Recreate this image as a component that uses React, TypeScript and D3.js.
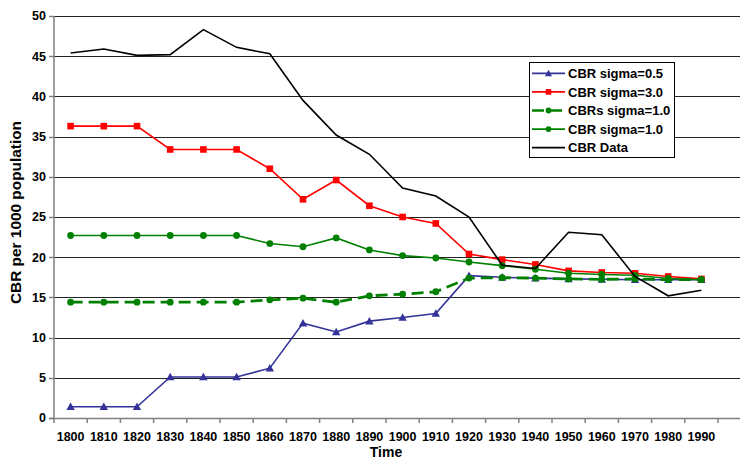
import React from "react";
import * as d3 from "d3";

const years = ["1800","1810","1820","1830","1840","1850","1860","1870","1880","1890","1900","1910","1920","1930","1940","1950","1960","1970","1980","1990"];
const yTicks = [0,5,10,15,20,25,30,35,40,45,50];

const sigma05 = [1.4,1.4,1.4,5.1,5.1,5.1,6.2,11.8,10.7,12.05,12.5,13.0,17.7,17.5,17.4,17.3,17.25,17.2,17.2,17.2];
const sigma30 = [36.3,36.3,36.3,33.4,33.4,33.4,31.0,27.2,29.6,26.4,25.0,24.2,20.4,19.7,19.1,18.3,18.1,18.0,17.6,17.3];
const cbrsSigma10 = [14.4,14.4,14.4,14.4,14.4,14.4,14.7,14.9,14.4,15.2,15.4,15.7,17.4,17.45,17.4,17.3,17.25,17.3,17.2,17.2];
const sigma10 = [22.7,22.7,22.7,22.7,22.7,22.7,21.7,21.3,22.4,20.9,20.2,19.9,19.4,18.95,18.5,18.0,17.85,17.75,17.35,17.2];
const cbrData = [45.4,45.9,45.1,45.2,48.3,46.1,45.3,39.5,35.2,32.8,28.6,27.6,25.0,19.0,18.6,23.1,22.8,17.6,15.2,15.9];

const series = [
  { name: "CBR sigma=0.5", values: sigma05, color: "#333399", marker: "triangle", dash: null, width: 1.6 },
  { name: "CBR sigma=3.0", values: sigma30, color: "#FF0000", marker: "square", dash: null, width: 1.6 },
  { name: "CBRs sigma=1.0", values: cbrsSigma10, color: "#008000", marker: "circle", dash: "12,6", width: 2.8 },
  { name: "CBR sigma=1.0", values: sigma10, color: "#008000", marker: "circle", dash: null, width: 1.6 },
  { name: "CBR Data", values: cbrData, color: "#000000", marker: null, dash: null, width: 1.6 },
];

const left = 54, right = 718, top = 16, bottom = 418, gridRight = 740;
const font = "'Liberation Sans', Arial, sans-serif";

function Marker({ type, x, y, color, scale = 1 }: { type: string | null; x: number; y: number; color: string; scale?: number }) {
  if (type === "triangle") {
    const s = 4.2 * scale;
    return <path d={`M${x},${y - s}L${x + s},${y + s * 0.8}L${x - s},${y + s * 0.8}Z`} fill={color} />;
  }
  if (type === "square") {
    const h = 3.3 * scale;
    return <rect x={x - h} y={y - h} width={2 * h} height={2 * h} fill={color} />;
  }
  if (type === "circle") {
    return <circle cx={x} cy={y} r={3.4 * scale} fill={color} />;
  }
  return null;
}

export default function App() {
  const x = d3.scaleBand<string>().domain(years).range([left, right]).padding(0);
  const y = d3.scaleLinear().domain([0, 50]).range([bottom, top]);
  const cx = (yr: string) => (x(yr) as number) + x.bandwidth() / 2;
  const line = d3.line<number>().x((_, i) => cx(years[i])).y((d) => y(d));

  const legendX = 529, legendY = 62, legendW = 145, legendH = 95;
  const rowYs = [73.3, 91.9, 110.5, 129.1, 147.7];

  return (
    <svg width={740} height={459} style={{ position: "absolute", left: 0, top: 0, background: "#fff" }} fontFamily={font} fontWeight="bold">
      <rect width={740} height={459} fill="#fff" />
      {yTicks.filter((t) => t > 0).map((t) => (
        <line key={t} x1={left} x2={gridRight} y1={Math.round(y(t)) + 0.5} y2={Math.round(y(t)) + 0.5} stroke="#222" strokeWidth={1} />
      ))}
      <line x1={left} x2={left} y1={top} y2={bottom} stroke="#808080" strokeWidth={1.5} />
      <line x1={left - 5} x2={gridRight} y1={bottom + 0.5} y2={bottom + 0.5} stroke="#808080" strokeWidth={1.5} />
      {yTicks.map((t) => (
        <g key={t}>
          <line x1={left - 5} x2={left} y1={Math.round(y(t)) + 0.5} y2={Math.round(y(t)) + 0.5} stroke="#808080" strokeWidth={1.5} />
          <text x={46} y={y(t)} dy="0.35em" textAnchor="end" fontSize={12.5} fill="#000">{t}</text>
        </g>
      ))}
      {years.map((yr, i) => (
        <g key={yr}>
          <line x1={(x(yr) as number)} x2={(x(yr) as number)} y1={bottom} y2={bottom + 5} stroke="#808080" strokeWidth={1.5} />
          {i === years.length - 1 && (
            <line x1={right} x2={right} y1={bottom} y2={bottom + 5} stroke="#808080" strokeWidth={1.5} />
          )}
          <text x={cx(yr)} y={441} textAnchor="middle" fontSize={12.5} fill="#000">{yr}</text>
        </g>
      ))}
      <text x={386} y={457} textAnchor="middle" fontSize={14} fill="#000">Time</text>
      <text transform={`translate(21,${212.5}) rotate(-90)`} textAnchor="middle" fontSize={14} fill="#000" textLength={183} lengthAdjust="spacingAndGlyphs">CBR per 1000 population</text>

      {series.map((s) => (
        <g key={s.name}>
          <path d={line(s.values) as string} fill="none" stroke={s.color} strokeWidth={s.width} strokeDasharray={s.dash ?? undefined} />
          {s.values.map((v, i) => (
            <Marker key={i} type={s.marker} x={cx(years[i])} y={y(v)} color={s.color} />
          ))}
        </g>
      ))}

      <rect x={legendX + 0.5} y={legendY + 0.5} width={legendW} height={legendH} fill="#fff" stroke="#000" strokeWidth={1} />
      {series.map((s, i) => (
        <g key={s.name}>
          <line x1={532} x2={565} y1={rowYs[i]} y2={rowYs[i]} stroke={s.color} strokeWidth={s.dash ? 2.4 : 1.8} strokeDasharray={s.dash ? "12,6" : undefined} />
          <Marker type={s.marker} x={548.5} y={rowYs[i]} color={s.color} scale={0.85} />
          <text x={568} y={rowYs[i]} dy="0.36em" fontSize={13} fill="#000">{s.name}</text>
        </g>
      ))}
    </svg>
  );
}
